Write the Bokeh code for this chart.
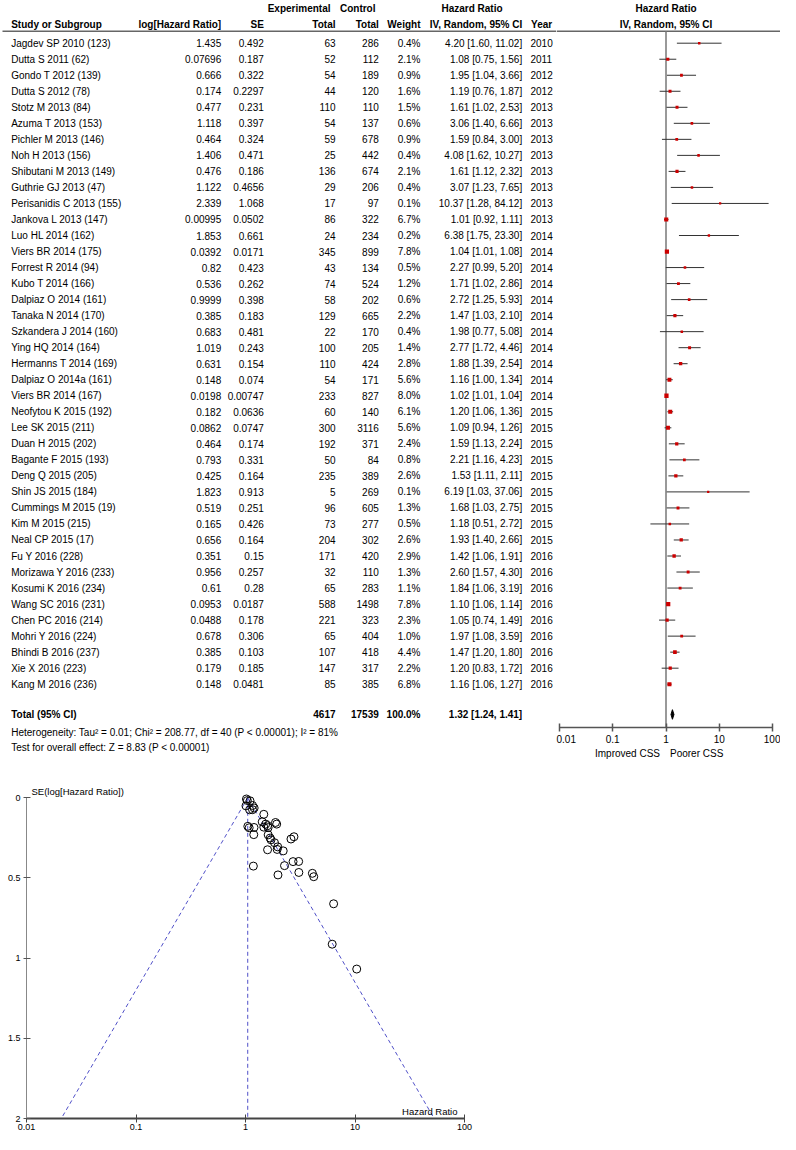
import numpy as np
from bokeh.plotting import figure
from bokeh.models import Range1d, FixedTicker, CustomJSTickFormatter
from bokeh.layouts import column, row
from bokeh.embed import file_html
from bokeh.resources import INLINE
from bokeh.core.properties import value

# ---------------- data ----------------
study = ["Jagdev SP 2010 (123)", "Dutta S 2011 (62)", "Gondo T 2012 (139)", "Dutta S 2012 (78)",
         "Stotz M 2013 (84)", "Azuma T 2013 (153)", "Pichler M 2013 (146)", "Noh H 2013 (156)",
         "Shibutani M 2013 (149)", "Guthrie GJ 2013 (47)", "Perisanidis C 2013 (155)",
         "Jankova L 2013 (147)", "Luo HL 2014 (162)", "Viers BR 2014 (175)", "Forrest R 2014 (94)",
         "Kubo T 2014 (166)", "Dalpiaz O 2014 (161)", "Tanaka N 2014 (170)", "Szkandera J 2014 (160)",
         "Ying HQ 2014 (164)", "Hermanns T 2014 (169)", "Dalpiaz O 2014a (161)", "Viers BR 2014 (167)",
         "Neofytou K 2015 (192)", "Lee SK 2015 (211)", "Duan H 2015 (202)", "Bagante F 2015 (193)",
         "Deng Q 2015 (205)", "Shin JS 2015 (184)", "Cummings M 2015 (19)", "Kim M 2015 (215)",
         "Neal CP 2015 (17)", "Fu Y 2016 (228)", "Morizawa Y 2016 (233)", "Kosumi K 2016 (234)",
         "Wang SC 2016 (231)", "Chen PC 2016 (214)", "Mohri Y 2016 (224)", "Bhindi B 2016 (237)",
         "Xie X 2016 (223)", "Kang M 2016 (236)"]
log_hr = [1.435, 0.07696, 0.666, 0.174, 0.477, 1.118, 0.464, 1.406, 0.476, 1.122, 2.339,
          0.00995, 1.853, 0.0392, 0.82, 0.536, 0.9999, 0.385, 0.683, 1.019, 0.631, 0.148,
          0.0198, 0.182, 0.0862, 0.464, 0.793, 0.425, 1.823, 0.519, 0.165, 0.656, 0.351,
          0.956, 0.61, 0.0953, 0.0488, 0.678, 0.385, 0.179, 0.148]
se = [0.492, 0.187, 0.322, 0.2297, 0.231, 0.397, 0.324, 0.471, 0.186, 0.4656, 1.068,
      0.0502, 0.661, 0.0171, 0.423, 0.262, 0.398, 0.183, 0.481, 0.243, 0.154, 0.074,
      0.00747, 0.0636, 0.0747, 0.174, 0.331, 0.164, 0.913, 0.251, 0.426, 0.164, 0.15,
      0.257, 0.28, 0.0187, 0.178, 0.306, 0.103, 0.185, 0.0481]
exp_total = [63, 52, 54, 44, 110, 54, 59, 25, 136, 29, 17, 86, 24, 345, 43, 74, 58, 129, 22,
             100, 110, 54, 233, 60, 300, 192, 50, 235, 5, 96, 73, 204, 171, 32, 65, 588, 221,
             65, 107, 147, 85]
ctrl_total = [286, 112, 189, 120, 110, 137, 678, 442, 674, 206, 97, 322, 234, 899, 134, 524,
              202, 665, 170, 205, 424, 171, 827, 140, 3116, 371, 84, 389, 269, 605, 277, 302,
              420, 110, 283, 1498, 323, 404, 418, 317, 385]
weight = [0.4, 2.1, 0.9, 1.6, 1.5, 0.6, 0.9, 0.4, 2.1, 0.4, 0.1, 6.7, 0.2, 7.8, 0.5, 1.2, 0.6,
          2.2, 0.4, 1.4, 2.8, 5.6, 8.0, 6.1, 5.6, 2.4, 0.8, 2.6, 0.1, 1.3, 0.5, 2.6, 2.9, 1.3,
          1.1, 7.8, 2.3, 1.0, 4.4, 2.2, 6.8]
hr = [4.20, 1.08, 1.95, 1.19, 1.61, 3.06, 1.59, 4.08, 1.61, 3.07, 10.37, 1.01, 6.38, 1.04,
      2.27, 1.71, 2.72, 1.47, 1.98, 2.77, 1.88, 1.16, 1.02, 1.20, 1.09, 1.59, 2.21, 1.53,
      6.19, 1.68, 1.18, 1.93, 1.42, 2.60, 1.84, 1.10, 1.05, 1.97, 1.47, 1.20, 1.16]
ci_lo = [1.60, 0.75, 1.04, 0.76, 1.02, 1.40, 0.84, 1.62, 1.12, 1.23, 1.28, 0.92, 1.75, 1.01,
         0.99, 1.02, 1.25, 1.03, 0.77, 1.72, 1.39, 1.00, 1.01, 1.06, 0.94, 1.13, 1.16, 1.11,
         1.03, 1.03, 0.51, 1.40, 1.06, 1.57, 1.06, 1.06, 0.74, 1.08, 1.20, 0.83, 1.06]
ci_hi = [11.02, 1.56, 3.66, 1.87, 2.53, 6.66, 3.00, 10.27, 2.32, 7.65, 84.12, 1.11, 23.30,
         1.08, 5.20, 2.86, 5.93, 2.10, 5.08, 4.46, 2.54, 1.34, 1.04, 1.36, 1.26, 2.24, 4.23,
         2.11, 37.06, 2.75, 2.72, 2.66, 1.91, 4.30, 3.19, 1.14, 1.49, 3.59, 1.80, 1.72, 1.27]
year = [2010, 2011, 2012, 2012, 2013, 2013, 2013, 2013, 2013, 2013, 2013, 2013, 2014, 2014,
        2014, 2014, 2014, 2014, 2014, 2014, 2014, 2014, 2014, 2015, 2015, 2015, 2015, 2015,
        2015, 2015, 2015, 2015, 2016, 2016, 2016, 2016, 2016, 2016, 2016, 2016, 2016]

total_exp = 4617
total_ctrl = 17539
total_weight = 100.0
total_hr, total_lo, total_hi = 1.32, 1.24, 1.41
heterogeneity = "Heterogeneity: Tau\u00b2 = 0.01; Chi\u00b2 = 208.77, df = 40 (P < 0.00001); I\u00b2 = 81%"
overall_effect = "Test for overall effect: Z = 8.83 (P < 0.00001)"
forest_ticks = [0.01, 0.1, 1, 10, 100]
funnel_x_ticks = [0.01, 0.1, 1, 10, 100]
funnel_y_ticks = [0, 0.5, 1, 1.5, 2]

# ---------------- layout constants ----------------
FONT = "Liberation Sans"
n = len(study)
rows = np.arange(n)
ROW0, ROWH = 42.7, 16.025
TOP_H = 760
AXIS_Y = 727
TBL_W = 556
FST_W = 780 - TBL_W


def row_of(cy):
    return (cy - ROW0) / ROWH


y_h1 = row_of(8.3)
y_h2 = row_of(24.3)
y_line = row_of(30.7)
y_tot = n + 0.89
y_het = row_of(732.3)
y_test = row_of(747.3)
y_axis_f = row_of(AXIS_Y)
y_css = row_of(753)


def txt(p, xs, ys, ts, align="left", bold=False, size="10px", color="#000000", **kw):
    p.text(x=xs, y=ys, text=ts, text_align=align, text_baseline="middle",
           text_font=value(FONT), text_font_size=size,
           text_font_style="bold" if bold else "normal", text_color=color,
           level="overlay", **kw)


fmt = CustomJSTickFormatter(code="return String(tick);")

# ---------------- table ----------------
tbl = figure(width=TBL_W, height=TOP_H, x_range=Range1d(0, TBL_W),
             y_range=Range1d(y_axis_f, row_of(0)),
             toolbar_location=None, output_backend="svg",
             x_axis_location=None, y_axis_location=None,
             min_border=0, min_border_left=0, min_border_right=0,
             min_border_top=0, min_border_bottom=TOP_H - AXIS_Y, outline_line_color=None)
tbl.grid.visible = False

C_STUDY, C_LOG, C_SE, C_EXP, C_CTL, C_W, C_HR, C_YR = 10.7, 220.7, 263.3, 335, 378.3, 420, 521.7, 530

txt(tbl, [330], [y_h1], ["Experimental"], "right", True)
txt(tbl, [375], [y_h1], ["Control"], "right", True)
txt(tbl, [471.5], [y_h1], ["Hazard Ratio"], "center", True)
txt(tbl, [C_STUDY], [y_h2], ["Study or Subgroup"], "left", True)
txt(tbl, [C_LOG, C_SE, C_EXP, C_CTL, C_W, C_HR, 551.7], [y_h2] * 7,
    ["log[Hazard Ratio]", "SE", "Total", "Total", "Weight", "IV, Random, 95% CI", "Year"],
    "right", True)
tbl.segment(x0=[2], y0=[y_line], x1=[TBL_W], y1=[y_line], line_color="#666666", line_width=1.5)

txt(tbl, [C_STUDY] * n, rows, study)
txt(tbl, [C_LOG] * n, rows, [str(v) for v in log_hr], "right")
txt(tbl, [C_SE] * n, rows, [str(v) for v in se], "right")
txt(tbl, [C_EXP] * n, rows, [str(v) for v in exp_total], "right")
txt(tbl, [C_CTL] * n, rows, [str(v) for v in ctrl_total], "right")
txt(tbl, [C_W] * n, rows, ["%.1f%%" % w for w in weight], "right")
txt(tbl, [C_HR] * n, rows, ["%.2f [%.2f, %.2f]" % (a, b, c) for a, b, c in zip(hr, ci_lo, ci_hi)], "right")
txt(tbl, [C_YR] * n, rows, [str(v) for v in year], "left")

txt(tbl, [C_STUDY], [y_tot], ["Total (95% CI)"], "left", True)
txt(tbl, [C_EXP, C_CTL, C_W, C_HR], [y_tot] * 4,
    [str(total_exp), str(total_ctrl), "%.1f%%" % total_weight,
     "%.2f [%.2f, %.2f]" % (total_hr, total_lo, total_hi)], "right", True)
txt(tbl, [C_STUDY], [y_het], [heterogeneity])
txt(tbl, [C_STUDY], [y_test], [overall_effect])

# ---------------- forest ----------------
PXD = 53.3          # pixels per decade
P001 = 558.9 - TBL_W  # frame x of HR = 0.01
fx0 = 10 ** (-2 - P001 / PXD)
fx1 = 10 ** (-2 + (FST_W - P001) / PXD)
fst = figure(width=FST_W, height=TOP_H, x_axis_type="log", x_range=Range1d(fx0, fx1),
             y_range=Range1d(y_axis_f, row_of(0)), y_axis_location=None,
             toolbar_location=None, output_backend="svg",
             min_border_left=0, min_border_right=0, min_border_top=0,
             min_border_bottom=TOP_H - AXIS_Y, outline_line_color=None)
fst.grid.visible = False
ax = fst.xaxis[0]
ax.ticker = FixedTicker(ticks=forest_ticks)
ax.formatter = fmt
ax.bounds = (forest_ticks[0], forest_ticks[-1])
ax.axis_line_color = "#555555"
ax.axis_line_width = 1.5
ax.major_tick_line_color = "#555555"
ax.major_tick_line_width = 1.5
ax.major_tick_in = 4
ax.major_tick_out = 4
ax.minor_tick_line_color = None
ax.major_label_standoff = 3
ax.major_label_text_font = FONT
ax.major_label_text_font_size = "10px"
ax.major_label_text_color = "#000000"

txt(fst, [1], [y_h1], ["Hazard Ratio"], "center", True)
txt(fst, [1], [y_h2], ["IV, Random, 95% CI"], "center", True)
fst.segment(x0=[fx0], y0=[y_line], x1=[fx1], y1=[y_line], line_color="#666666", line_width=1.5)
fst.segment(x0=[1], y0=[y_line], x1=[1], y1=[y_axis_f], line_color="#777777", line_width=1.5)
fst.segment(x0=ci_lo, y0=rows, x1=ci_hi, y1=rows, line_color="#333333", line_width=1)
sizes = [2.0 + 0.8 * np.sqrt(w) for w in weight]
fst.scatter(x=hr, y=rows, marker="square", size=sizes, fill_color="#cc0000", line_color=None)
fst.patch(x=[total_lo, total_hr, total_hi, total_hr],
          y=[y_tot, y_tot - 0.3, y_tot, y_tot + 0.3],
          fill_color="#000000", line_color="#000000", line_width=1)
txt(fst, [1], [y_css], ["Improved CSS"], "right", x_offset=-6)
txt(fst, [1], [y_css], ["Poorer CSS"], "left", x_offset=4)

# ---------------- funnel ----------------
F_H = 1134 - TOP_H
f_top, f_bot = 10, 16
zero_y = 797.3 - TOP_H
ppu = (F_H - f_bot - zero_y) / 2.0
y_top = -(zero_y - f_top) / ppu

fun = figure(width=780, height=F_H, x_axis_type="log",
             x_range=Range1d(funnel_x_ticks[0], funnel_x_ticks[-1]),
             y_range=Range1d(funnel_y_ticks[-1], y_top),
             toolbar_location=None, output_backend="svg",
             min_border_left=26, min_border_right=316, min_border_top=f_top,
             min_border_bottom=f_bot, outline_line_color=None)
fun.grid.visible = False
xa = fun.xaxis[0]
xa.ticker = FixedTicker(ticks=funnel_x_ticks)
xa.formatter = fmt
xa.axis_line_color = "#444444"
xa.axis_line_width = 2
xa.major_tick_line_color = "#444444"
xa.major_tick_in = 4
xa.major_tick_out = 4
xa.minor_tick_line_color = None
xa.major_label_standoff = 1
xa.major_label_text_font = FONT
xa.major_label_text_font_size = "9px"
xa.major_label_text_color = "#000000"
ya = fun.yaxis[0]
ya.ticker = FixedTicker(ticks=funnel_y_ticks)
ya.formatter = fmt
ya.bounds = (funnel_y_ticks[0], funnel_y_ticks[-1])
ya.axis_line_color = "#888888"
ya.axis_line_width = 1
ya.major_tick_line_color = "#555555"
ya.major_tick_in = 4
ya.major_tick_out = 3
ya.minor_tick_line_color = None
ya.major_label_standoff = 3
ya.major_label_text_font = FONT
ya.major_label_text_font_size = "9px"
ya.major_label_text_color = "#000000"

lhr = np.array(log_hr)
sea = np.array(se)
wts = 1.0 / sea ** 2
est = float(np.sum(wts * lhr) / np.sum(wts))
se_max = funnel_y_ticks[-1]
e0 = np.exp(est)
fun.segment(x0=[e0, e0, e0], y0=[0, 0, 0],
            x1=[e0, np.exp(est - 1.96 * se_max), np.exp(est + 1.96 * se_max)],
            y1=[se_max, se_max, se_max],
            line_dash="4 3", line_color="#5050c8", line_width=1)
fun.scatter(x=np.exp(lhr), y=sea, marker="circle", size=8, fill_color=None,
            line_color="#000000", line_width=1)
fun.text(x=[funnel_x_ticks[0]], y=[0], text=["SE(log[Hazard Ratio])"], text_align="left",
         text_baseline="middle", x_offset=5, y_offset=-6, text_font=value(FONT),
         text_font_size="9.5px", text_color="#000000", level="overlay")
fun.text(x=[funnel_x_ticks[-1]], y=[se_max], text=["Hazard Ratio"], text_align="right",
         text_baseline="middle", x_offset=-7, y_offset=-7, text_font=value(FONT),
         text_font_size="9.5px", text_color="#000000", level="overlay")

layout = column(row(tbl, fst), fun)
open("out.html", "w").write(file_html(layout, INLINE))
